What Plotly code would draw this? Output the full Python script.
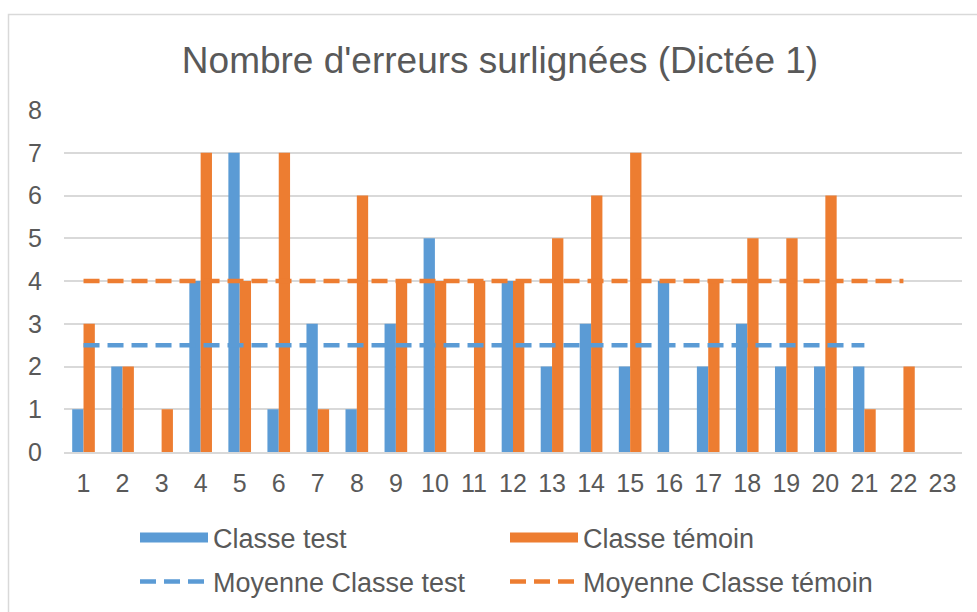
import plotly.graph_objects as go

categories = [str(i) for i in range(1, 24)]
classe_test = [1, 2, 0, 4, 7, 1, 3, 1, 3, 5, 0, 4, 2, 3, 2, 4, 2, 3, 2, 2, 2, None, None]
classe_temoin = [3, 2, 1, 7, 4, 7, 1, 6, 4, 4, 4, 4, 5, 6, 7, 0, 4, 5, 5, 6, 1, 2, None]
moyenne_test = [2.5] * 21
moyenne_temoin = [4] * 22
y_ticks = [0, 1, 2, 3, 4, 5, 6, 7, 8]

BLUE = "#5b9bd5"
ORANGE = "#ed7d31"
GREY = "#595959"
GRID = "#d9d9d9"
FONT = "Liberation Sans, Arial, sans-serif"

fig = go.Figure()
fig.add_trace(go.Bar(x=categories, y=classe_test, name="Classe test", showlegend=False,
                     marker=dict(color=BLUE, line=dict(width=0))))
fig.add_trace(go.Bar(x=categories, y=classe_temoin, name="Classe témoin", showlegend=False,
                     marker=dict(color=ORANGE, line=dict(width=0))))
# legend entries for the bar series (wide rectangle swatches)
fig.add_trace(go.Scatter(x=[None], y=[None], mode="lines", name="Classe test",
                         line=dict(color=BLUE, width=17), legend="legend"))
fig.add_trace(go.Scatter(x=[None], y=[None], mode="lines", name="Classe témoin",
                         line=dict(color=ORANGE, width=17), legend="legend"))
fig.add_trace(go.Scatter(x=categories[:len(moyenne_test)], y=moyenne_test, mode="lines",
                         name="Moyenne Classe test",
                         line=dict(color=BLUE, width=4.5, dash="16px,8px"), legend="legend2"))
fig.add_trace(go.Scatter(x=categories[:len(moyenne_temoin)], y=moyenne_temoin, mode="lines",
                         name="Moyenne Classe témoin",
                         line=dict(color=ORANGE, width=4.5, dash="16px,8px"), legend="legend2"))

L, R, T, B = 64, 15, 110, 160
W, H = 977, 612
pw, ph = W - L - R, H - T - B

def px(x):
    return (x - L) / pw

def py(y):
    return (H - B - y) / ph

legend_common = dict(orientation="h", xanchor="left", yanchor="middle",
                     entrywidth=287, entrywidthmode="pixels", itemwidth=68,
                     font=dict(size=27, color=GREY), bgcolor="rgba(0,0,0,0)")

fig.update_layout(
    width=W, height=H,
    margin=dict(l=L, r=R, t=T, b=B, autoexpand=False),
    paper_bgcolor="white", plot_bgcolor="white",
    font=dict(family=FONT, color=GREY, size=25),
    title=dict(text="Nombre d'erreurs surlignées (Dictée 1)", xref="paper", x=px(500),
               xanchor="center", y=1 - 60 / H, yanchor="middle",
               font=dict(size=37, color=GREY, family=FONT)),
    barmode="group", bargap=0.42, bargroupgap=0,
    xaxis=dict(type="category", showgrid=False, showline=True, linecolor=GRID, linewidth=1.5,
               ticks="", tickfont=dict(size=25, color=GREY), ticklabelstandoff=8,
               range=[-0.5, 22.5]),
    yaxis=dict(range=[0, 8], tickvals=y_ticks, showgrid=True, gridcolor=GRID, gridwidth=1.5,
               zeroline=False, showline=False, ticks="", tickfont=dict(size=25, color=GREY),
               ticklabelstandoff=21),
    legend=dict(x=px(135), y=py(538), **legend_common),
    legend2=dict(x=px(135), y=py(582), **legend_common),
    shapes=[dict(type="rect", xref="paper", yref="paper",
                 x0=px(8.5), x1=px(1000), y0=py(640), y1=py(14.5),
                 line=dict(color=GRID, width=1.5), fillcolor="rgba(0,0,0,0)", layer="below")],
)

fig.write_html("out.html", config={"displayModeBar": False},
               post_script="document.body.style.margin='0';document.body.style.overflow='hidden';")
